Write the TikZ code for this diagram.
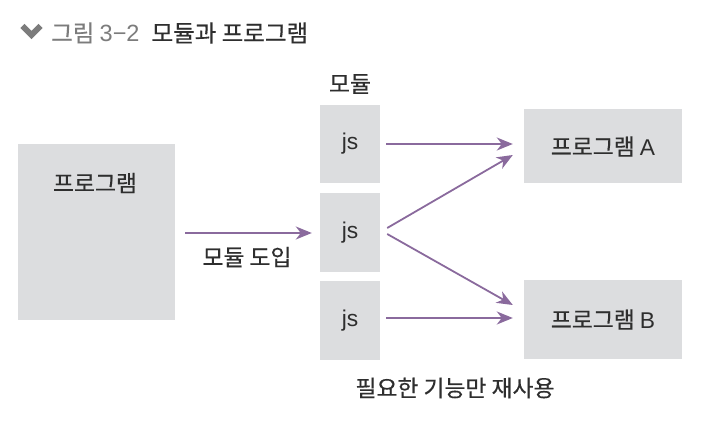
\documentclass[tikz,border=0pt]{standalone}
\usepackage{fontspec}
\setmainfont{Noto Sans CJK KR}[FakeBold=0.5]
\newfontfamily\lat{Liberation Sans}
\usetikzlibrary{arrows.meta}
\definecolor{boxgray}{HTML}{DCDDDF}
\definecolor{arrowpurple}{HTML}{8A6A9D}
\definecolor{txt}{HTML}{2E2E2E}
\definecolor{titlegray}{HTML}{7C7C7C}
\tikzset{
  gbox/.style={fill=boxgray, draw=none, inner sep=0pt, text=txt, font=\fontsize{22.8}{26}\selectfont},
  parrow/.style={draw=arrowpurple, line width=1.8pt, -{Stealth[length=16pt,width=13pt,inset=5pt]}},
  lbl/.style={text=txt, font=\fontsize{22.8}{26}\selectfont, inner sep=0pt},
}
\begin{document}
\begin{tikzpicture}[x=1pt,y=-1pt]
\useasboundingbox (0,0) rectangle (706,430);
% title
\draw[titlegray, line width=6pt, line cap=butt, line join=miter] (22.5,26) -- (31.5,35) -- (40.5,26);
\node[anchor=west, inner sep=0pt, font=\fontsize{23.5}{27}\selectfont] (title) at (51,33) {\textcolor{titlegray}{그림 {\lat 3−2}}\hspace{12pt}\textcolor{txt}{모듈과 프로그램}};
% big program box
\node[gbox, minimum width=157pt, minimum height=176pt] (prog) at (96.5,232) {};
\node[lbl] (progtxt) at (95,183) {프로그램};
% module label
\node[lbl] (modlbl) at (350,84) {모듈};
% js boxes
\node[gbox, minimum width=60pt, minimum height=78pt] (js1) at (350,144) {\lat js};
\node[gbox, minimum width=60pt, minimum height=79pt] (js2) at (350,232.5) {\lat js};
\node[gbox, minimum width=60pt, minimum height=79pt] (js3) at (350,320.5) {\lat js};
% programs A, B
\node[gbox, minimum width=158pt, minimum height=74pt] (pa) at (603,146.5) {프로그램 {\lat A}};
\node[gbox, minimum width=158pt, minimum height=79pt] (pb) at (603,319.5) {프로그램 {\lat B}};
% arrows (yshift is in canvas units: positive = up)
\coordinate (m0) at (185,233);
\draw[parrow] (m0) -- ([xshift=-8pt]js2.west |- m0);
\node[lbl] (mlbl) at (247,257) {모듈 도입};
\draw[parrow] ([xshift=6pt]js1.east) -- ([xshift=-11pt,yshift=2.5pt]pa.west);
\draw[parrow] ([xshift=7pt,yshift=4.5pt]js2.east) -- ([xshift=-11pt,yshift=-8.5pt]pa.west);
\draw[parrow] ([xshift=7pt,yshift=-1.5pt]js2.east) -- ([xshift=-11pt,yshift=14.5pt]pb.west);
\draw[parrow] ([xshift=6pt,yshift=2.5pt]js3.east) -- ([xshift=-11pt,yshift=1.5pt]pb.west);
% bottom label
\node[lbl] (reuse) at (455,388) {필요한 기능만 재사용};
\end{tikzpicture}
\end{document}
